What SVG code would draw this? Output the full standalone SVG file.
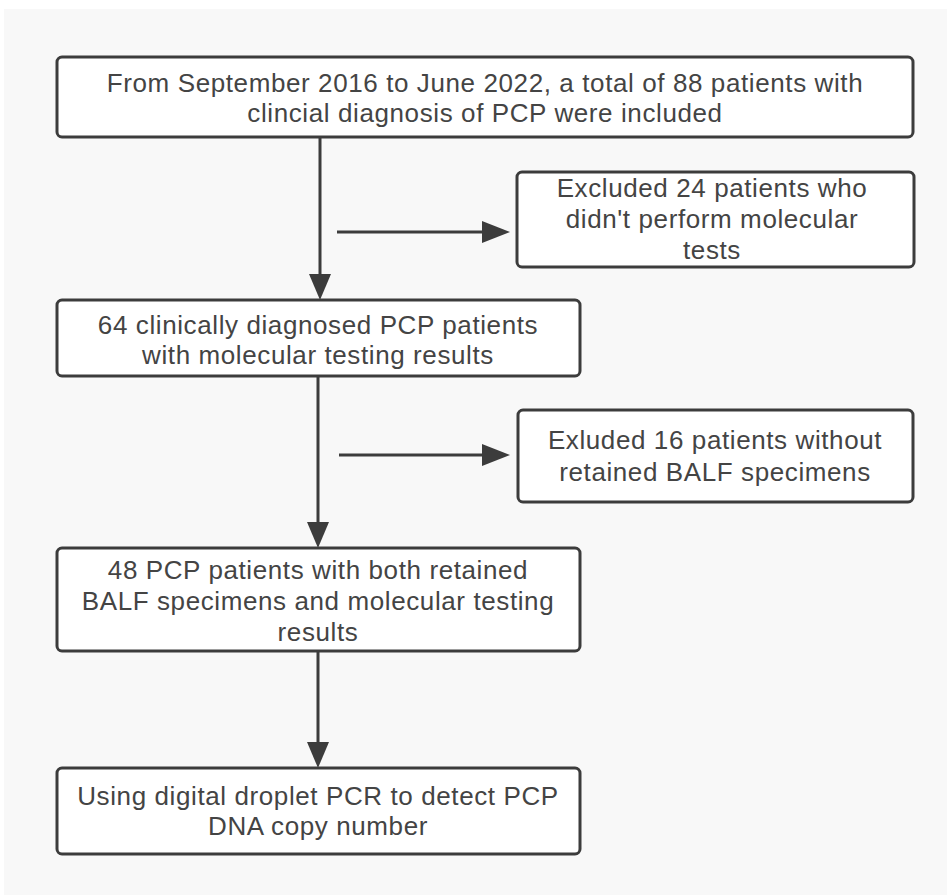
<svg xmlns="http://www.w3.org/2000/svg" width="947" height="895" viewBox="0 0 947 895">
<defs>
<style>
.box{fill:#fff;stroke:#3c3c3c;stroke-width:3}
.t{font-family:"Liberation Sans",Arial,sans-serif;font-size:26px;letter-spacing:0.6px;fill:#444;text-anchor:middle}
.ln{stroke:#3c3c3c;stroke-width:3;fill:none}
.ah{fill:#3c3c3c}
</style>
</defs>
<rect x="0" y="0" width="947" height="895" fill="#fff"/>
<rect x="4" y="9" width="943" height="886" fill="#f8f8f8"/>
<g id="connectors">
<line class="ln" x1="320" y1="137" x2="320" y2="275"/>
<path class="ah" d="M309,274 L331,274 L320,300 Z"/>
<line class="ln" x1="337" y1="232" x2="485" y2="232"/>
<path class="ah" d="M482,221 L482,243 L510,232 Z"/>
<line class="ln" x1="318" y1="376" x2="318" y2="523"/>
<path class="ah" d="M307,522 L329,522 L318,548 Z"/>
<line class="ln" x1="339" y1="455" x2="485" y2="455"/>
<path class="ah" d="M482,444 L482,466 L510,455 Z"/>
<line class="ln" x1="318" y1="651" x2="318" y2="743"/>
<path class="ah" d="M307,742 L329,742 L318,768 Z"/>
</g>
<g id="n1">
<rect class="box" x="57" y="57" width="856" height="80" rx="5"/>
<text class="t" x="485" y="92">From September 2016 to June 2022, a total of 88 patients with</text>
<text class="t" x="485" y="122">clincial diagnosis of PCP were included</text>
</g>
<g id="n2">
<rect class="box" x="517" y="172" width="397" height="95" rx="5"/>
<text class="t" x="712" y="197">Excluded 24 patients who</text>
<text class="t" x="712" y="228">didn't perform molecular</text>
<text class="t" x="712" y="259">tests</text>
</g>
<g id="n3">
<rect class="box" x="57" y="300" width="523" height="76" rx="5"/>
<text class="t" x="318" y="334">64 clinically diagnosed PCP patients</text>
<text class="t" x="318" y="364">with molecular testing results</text>
</g>
<g id="n4">
<rect class="box" x="518" y="410" width="395" height="92" rx="5"/>
<text class="t" x="715" y="449">Exluded 16 patients without</text>
<text class="t" x="715" y="481">retained BALF specimens</text>
</g>
<g id="n5">
<rect class="box" x="57" y="548" width="523" height="103" rx="5"/>
<text class="t" x="318" y="579">48 PCP patients with both retained</text>
<text class="t" x="318" y="610">BALF specimens and molecular testing</text>
<text class="t" x="318" y="641">results</text>
</g>
<g id="n6">
<rect class="box" x="57" y="768" width="523" height="86" rx="5"/>
<text class="t" x="318" y="805">Using digital droplet PCR to detect PCP</text>
<text class="t" x="318" y="835">DNA copy number</text>
</g>
</svg>
